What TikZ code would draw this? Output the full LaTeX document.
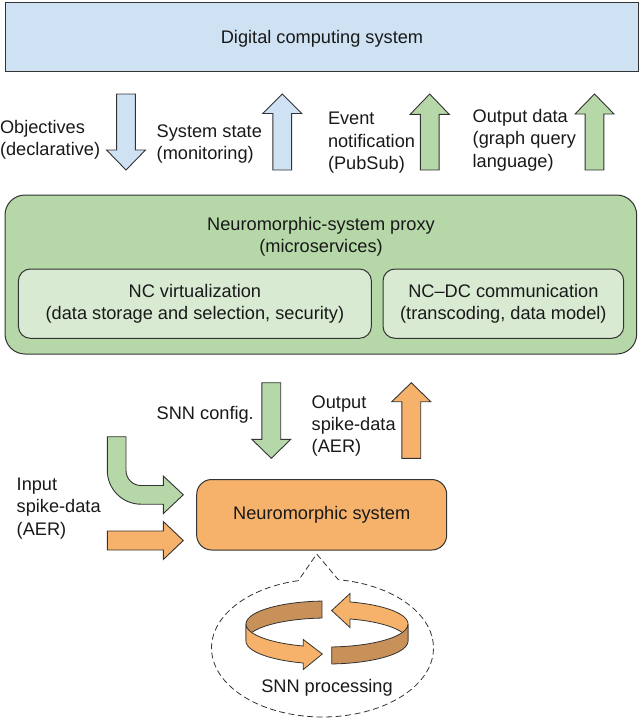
\documentclass[tikz,border=0pt]{standalone}
\usepackage{fontspec}
\setmainfont{Liberation Sans}
\definecolor{cblue}{HTML}{CFE2F3}
\definecolor{cgreen}{HTML}{B6D7A8}
\definecolor{cpale}{HTML}{D9EAD3}
\definecolor{corange}{HTML}{F6B26B}
\definecolor{cdark}{HTML}{C8915A}
\definecolor{cline}{HTML}{333333}
\newcommand\blkvert[5]{%
  \filldraw[fill=#1,draw=cline,line width=0.9pt,line join=miter]
    ({#2-9.4},{#3}) -- ({#2-9.4},{#4}) -- ({#2-19.5},{#4}) -- ({#2},{#5})
    -- ({#2+19.5},{#4}) -- ({#2+9.4},{#4}) -- ({#2+9.4},{#3}) -- cycle;}
\tikzset{
  txt/.style={font=\fontsize{18.2}{22.4}\selectfont, inner sep=0pt, outer sep=0pt, text=black!90},
  lbl/.style={txt, align=left, anchor=west},
  boxbase/.style={txt, draw=cline, line width=1pt, align=center},
}
\begin{document}
\begin{tikzpicture}[x=1pt,y=-1pt]
\useasboundingbox (0,0) rectangle (640,720);

% Digital computing system
\node[boxbase, fill=cblue, minimum width=633pt, minimum height=69pt] (dcs) at (321.5,36.5) {};
\node[txt] (dcst) at (322,38.5) {Digital computing system};

% upper arrows
\blkvert{cblue}{126}{94}{150}{170}
\blkvert{cblue}{282.2}{170}{113.5}{94}
\blkvert{cgreen}{429.7}{170}{114.3}{94}
\blkvert{cgreen}{594.5}{170}{114}{94}

\node[lbl] (obj) at (0,139.5) {Objectives\\(declarative)};
\node[lbl] (sys) at (156.7,144) {System state\\(monitoring)};
\node[lbl] (evt) at (328,143) {Event\\notification\\(PubSub)};
\node[lbl] (outd) at (472.7,140) {Output data\\(graph query\\language)};

% proxy
\node[boxbase, fill=cgreen, rounded corners=20pt, minimum width=631.7pt, minimum height=159pt] (proxy) at (320.85,274.5) {};
\node[txt, align=center] (ptitle) at (321,236.5) {Neuromorphic-system proxy\\(microservices)};
\node[boxbase, fill=cpale, rounded corners=12pt, minimum width=353pt, minimum height=69.3pt] (virt) at (194.9,303.65) {NC virtualization\\(data storage and selection, security)};
\node[boxbase, fill=cpale, rounded corners=12pt, minimum width=240.7pt, minimum height=69.3pt] (comm) at (503.35,303.65) {NC--DC communication\\(transcoding, data model)};

% lower arrows
\blkvert{cgreen}{271.3}{382.7}{439.3}{458.3}
\blkvert{corange}{411.3}{458.3}{401.7}{382.7}
\node[lbl] (cfg) at (156.7,414.5) {SNN config.};
\node[lbl] (outspk) at (311.7,426) {Output\\spike-data\\(AER)};
\node[lbl] (inspk) at (16.7,508.5) {Input\\spike-data\\(AER)};

% curved green arrow
\filldraw[fill=cgreen,draw=cline,line width=0.9pt,line join=miter]
  (107.3,436.7) -- (126,436.7) -- (126,470.5) arc[start angle=180,end angle=90,radius=15]
  -- (163.3,485.5) -- (163.3,476) -- (183.3,494.8) -- (163.3,513.6) -- (163.3,504.2)
  -- (141,504.2) arc[start angle=90,end angle=180,radius=33.7] -- cycle;
% straight orange arrow
\filldraw[fill=corange,draw=cline,line width=0.9pt,line join=miter]
  (107.3,531) -- (163.3,531) -- (163.3,521.5) -- (183.3,540.5) -- (163.3,559.5)
  -- (163.3,550) -- (107.3,550) -- cycle;

% neuromorphic system
\node[boxbase, fill=corange, rounded corners=15pt, minimum width=250pt, minimum height=70.5pt] (neuro) at (321.7,514.75) {Neuromorphic system};

% callout
\draw[cline, line width=0.8pt, dash pattern=on 6pt off 3.5pt]
  plot[domain=102.6:441.8, samples=120, variable=\t] ({322.5+111*cos(\t)},{648-69*sin(\t)})
  -- (316.7,554) -- cycle;

% ribbon arrows
\begin{scope}[line width=0.8pt, draw=cline, line join=miter]
\filldraw[fill=cdark]
  plot[domain=93.5:180, samples=40, variable=\t] ({327+81*cos(\t)},{624-23*sin(\t)})
  -- plot[domain=180:93.5, samples=40, variable=\t] ({327+81*cos(\t)},{641-23*sin(\t)}) -- cycle;
\filldraw[fill=corange]
  plot[domain=0:73.5, samples=40, variable=\t] ({327+81*cos(\t)},{624-23*sin(\t)})
  -- (350,593.5) -- (331.7,610.5) -- (350,627.5)
  -- plot[domain=73.5:0, samples=40, variable=\t] ({327+81*cos(\t)},{641-23*sin(\t)}) -- cycle;
\filldraw[fill=cdark]
  plot[domain=273.3:360, samples=40, variable=\t] ({327+81*cos(\t)},{624-23*sin(\t)})
  -- plot[domain=360:273.3, samples=40, variable=\t] ({327+81*cos(\t)},{641-23*sin(\t)}) -- cycle;
\filldraw[fill=corange]
  plot[domain=180:253, samples=40, variable=\t] ({327+81*cos(\t)},{624-23*sin(\t)})
  -- (303.3,639.5) -- (322.3,654) -- (303.3,669.5)
  -- plot[domain=253:180, samples=40, variable=\t] ({327+81*cos(\t)},{641-23*sin(\t)}) -- cycle;
\end{scope}
\node[txt] (snnp) at (327,688) {SNN processing};
\end{tikzpicture}
\end{document}
